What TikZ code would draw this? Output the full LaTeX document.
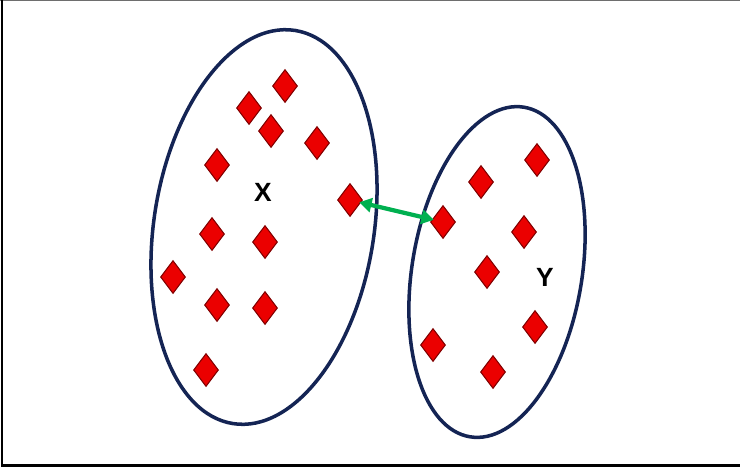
\documentclass[tikz,border=0pt]{standalone}
\usepackage{fontspec}
\setmainfont{Liberation Sans}
\usetikzlibrary{shapes.geometric, arrows.meta}
\definecolor{navy}{RGB}{20,36,84}
\definecolor{pointred}{RGB}{235,0,0}
\definecolor{pointedge}{RGB}{130,0,0}
\definecolor{linkgreen}{RGB}{0,176,80}
\definecolor{framegray}{RGB}{110,110,110}

\begin{document}
\begin{tikzpicture}[
    x=0.02cm, y=-0.02cm,
    point/.style={diamond, fill=pointred, draw=pointedge, line width=0.6pt, minimum width=0.5cm, minimum height=0.66cm, inner sep=0pt},
    cluster/.style={draw=navy, line width=2pt},
    tag/.style={font=\fontsize{15}{17}\selectfont\bfseries, text=black},
    link/.style={{Triangle[length=7pt,width=8pt]}-{Triangle[length=7pt,width=8pt]}, line width=2.4pt, linkgreen, shorten <=-1pt, shorten >=-1pt},
]
\useasboundingbox (0,0) rectangle (740,471);

% frame
\draw[framegray, line width=0.6pt] (0,0.5) -- (740,0.5);
\draw[black, line width=1.3pt] (2,0) -- (2,465.5) -- (740,465.5);

% clusters
\draw[cluster, rotate around={-9:(264,227)}] (264,227) ellipse [x radius=110, y radius=199];
\draw[cluster, rotate around={-9.3:(497,272)}] (497,272) ellipse [x radius=85, y radius=167];

% points of X
\node[point] (x1) at (285,86) {};
\node[point] (x2) at (249,108) {};
\node[point] (x3) at (271,131) {};
\node[point] (x4) at (317,143) {};
\node[point] (x5) at (217,165) {};
\node[point] (x6) at (350,200) {};
\node[point] (x7) at (212,234) {};
\node[point] (x8) at (265,242) {};
\node[point] (x9) at (173,277) {};
\node[point] (x10) at (217,305) {};
\node[point] (x11) at (265,308) {};
\node[point] (x12) at (206,370) {};

% points of Y
\node[point] (y1) at (537,160) {};
\node[point] (y2) at (481,182) {};
\node[point] (y3) at (443,222) {};
\node[point] (y4) at (524,232) {};
\node[point] (y5) at (487,272) {};
\node[point] (y6) at (535,327) {};
\node[point] (y7) at (433,345) {};
\node[point] (y8) at (493,372) {};

\node[tag] (lx) at (263,192) {X};
\node[tag] (ly) at (545,277) {Y};

\draw[link] (x6) -- (y3);

\end{tikzpicture}
\end{document}
